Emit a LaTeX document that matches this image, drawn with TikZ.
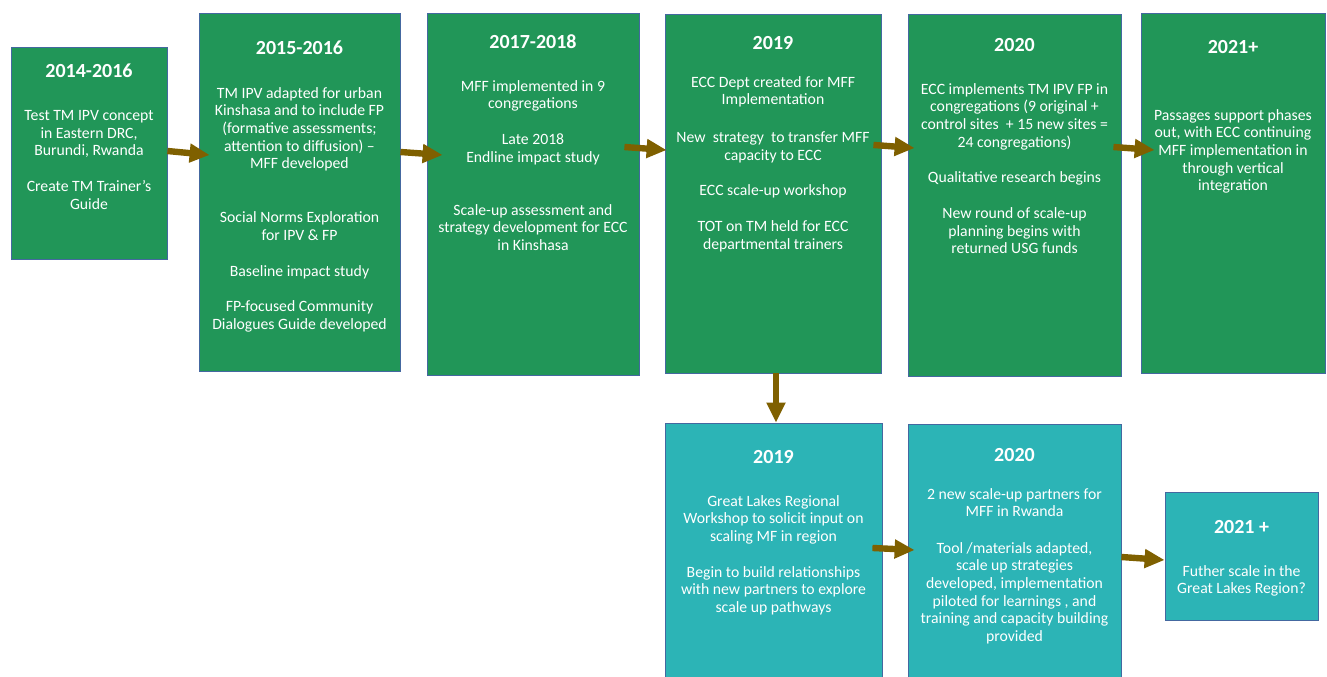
\documentclass[tikz,border=0pt]{standalone}
\usepackage{fontspec}
\setmainfont{Carlito}
\usetikzlibrary{arrows.meta}
\definecolor{boxgreen}{RGB}{33,150,88}
\definecolor{boxteal}{RGB}{44,180,182}
\definecolor{boxline}{RGB}{68,104,160}
\definecolor{arrbrown}{RGB}{127,96,0}
\begin{document}
\begin{tikzpicture}[x=0.75pt,y=-0.75pt,gbox/.style={draw=boxline,line width=0.6pt,fill=boxgreen,inner sep=0pt},tbox/.style={gbox,fill=boxteal},ttl/.style={text=white,font=\fontsize{15}{17}\selectfont\bfseries,inner sep=0pt},txt/.style={text=white,font=\fontsize{11.8}{13.25}\selectfont,align=center,inner sep=0pt,anchor=north},arr/.style={draw=arrbrown,line width=4.8pt,-{Triangle[length=15pt,width=13.5pt]}}]
\useasboundingbox (0,0) rectangle (1327,677);
\node[gbox,minimum width=117pt,minimum height=159pt] (a) at (89,153) {};
\node[gbox,minimum width=150.75pt,minimum height=268.5pt] (b) at (299.5,192) {};
\node[gbox,minimum width=159pt,minimum height=271.5pt] (c) at (533,194) {};
\node[gbox,minimum width=162pt,minimum height=269.25pt] (d) at (773,193.5) {};
\node[gbox,minimum width=159.75pt,minimum height=271.5pt] (e) at (1014.5,195) {};
\node[gbox,minimum width=138pt,minimum height=270pt] (f) at (1233,193) {};
\node[tbox,minimum width=162.75pt,minimum height=200.25pt] (g) at (773.5,556.5) {};
\node[tbox,minimum width=159.75pt,minimum height=199.5pt] (h) at (1014.5,557) {};
\node[tbox,minimum width=114.75pt,minimum height=96pt] (i) at (1241.5,556) {};
\node[ttl] (ta) at (89,71) {2014-2016};
\node[txt] (xa) at (89,110) {Test TM IPV concept\\in Eastern DRC,\\Burundi, Rwanda\\[13.5pt]Create TM Trainer’s\\Guide};
\node[ttl] (tb) at (299.5,48) {2015-2016};
\node[txt] (xb) at (299.5,87) {TM IPV adapted for urban\\Kinshasa and to include FP\\(formative assessments;\\attention to diffusion) –\\MFF developed\\[27pt]Social Norms Exploration\\for IPV \& FP\\[14pt]Baseline impact study\\[13pt]FP-focused Community\\Dialogues Guide developed};
\node[ttl] (tc) at (533,42) {2017-2018};
\node[txt] (xc) at (533,80) {MFF implemented in 9\\congregations\\[13.5pt]Late 2018\\Endline impact study\\[26.5pt]Scale-up assessment and\\strategy development for ECC\\in Kinshasa};
\node[ttl] (td) at (773,43) {2019};
\node[txt] (xd) at (773,76) {ECC Dept created for MFF\\Implementation\\[15pt]New~ strategy~ to transfer MFF\\capacity to ECC\\[13.5pt]ECC scale-up workshop\\[13.5pt]TOT on TM held for ECC\\departmental trainers};
\node[ttl] (te) at (1014.5,45) {2020};
\node[txt] (xe) at (1014.5,83) {ECC implements TM IPV FP in\\congregations (9 original +\\control sites~ + 15 new sites =\\24 congregations)\\[13.5pt]Qualitative research begins\\[13.5pt]New round of scale-up\\planning begins with\\returned USG funds};
\node[ttl] (tf) at (1233,47) {2021+};
\node[txt] (xf) at (1233,109) {Passages support phases\\out, with ECC continuing\\MFF implementation in\\through vertical\\integration};
\node[ttl] (tg) at (773.5,457) {2019};
\node[txt] (xg) at (773.5,495) {Great Lakes Regional\\Workshop to solicit input on\\scaling MF in region\\[13.5pt]Begin to build relationships\\with new partners to explore\\scale up pathways};
\node[ttl] (th) at (1014.5,455) {2020};
\node[txt] (xh) at (1014.5,488) {2 new scale-up partners for\\MFF in Rwanda\\[14pt]Tool /materials adapted,\\scale up strategies\\developed, implementation\\piloted for learnings , and\\training and capacity building\\provided};
\node[ttl] (ti) at (1241.5,527) {2021 +};
\node[txt] (xi) at (1241.5,565) {Futher scale in the\\Great Lakes Region?};
\draw[arr] ([yshift=1.5pt]a.east) -- ([xshift=8.25pt,yshift=27.75pt]b.west);
\draw[arr] ([yshift=30pt]b.east) -- ([xshift=12pt,yshift=29.25pt]c.west);
\draw[arr] ([xshift=-11.25pt,yshift=35.25pt]c.east) -- ([xshift=1.5pt,yshift=32.6pt]d.west);
\draw[arr] ([xshift=-6pt,yshift=36.4pt]d.east) -- ([xshift=5.25pt,yshift=35.25pt]e.west);
\draw[arr] ([xshift=-6pt,yshift=36pt]e.east) -- ([xshift=10.5pt,yshift=32.25pt]f.west);
\draw[arr] ([xshift=2.25pt]d.south) -- ([xshift=2.25pt]d.south |- g.north);
\draw[arr] ([xshift=-7.5pt,yshift=6.4pt]g.east) -- ([xshift=5.25pt,yshift=5.25pt]h.west);
\draw[arr] (h.east) -- ([yshift=-3pt]i.west);
\end{tikzpicture}
\end{document}
